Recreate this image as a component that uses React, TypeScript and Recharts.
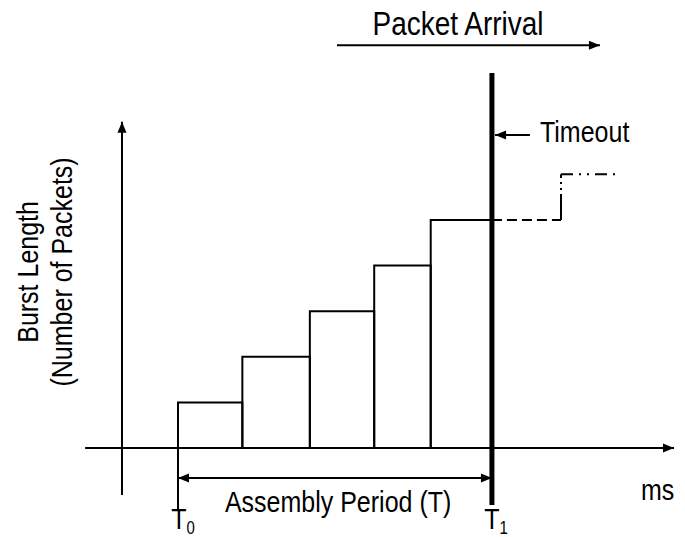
import { ComposedChart, XAxis, YAxis, ReferenceArea, ReferenceLine, ReferenceDot } from "recharts";

// packet arrivals inside one assembly period (ms) and the burst length after each
const arrivalTimes = [0, 2.05, 4.2, 6.25, 8.05];
const burstLengths = [1, 2, 3, 4, 5];
const timeoutAt = 10;
// what the burst would have done without the timeout
const lateArrival = 12.2;
const lateLength = 6;
const traceEnd = 14.1;

const bars = arrivalTimes.map((t, i) => ({
  x1: t,
  x2: i + 1 < arrivalTimes.length ? arrivalTimes[i + 1] : timeoutAt,
  y: burstLengths[i],
}));
const lastLength = burstLengths[burstLengths.length - 1];
const dashedPart = [
  { t: timeoutAt, n: lastLength },
  { t: lateArrival, n: lastLength },
];
const dashDotPart = [
  { t: lateArrival, n: lastLength },
  { t: lateArrival, n: lateLength },
  { t: traceEnd, n: lateLength },
];

const W = 685;
const H = 537;
const X_DOMAIN: [number, number] = [-5.67, 16.15];
const Y_DOMAIN: [number, number] = [-1.95, 9.82];
const FONT = "'Liberation Sans', Arial, Helvetica, sans-serif";
const STRETCH = 1.2; // scanned lettering is taller than Arial

function toSegments(pts: { t: number; n: number }[]) {
  return pts.slice(1).map((p, i) => [
    { x: pts[i].t, y: pts[i].n },
    { x: p.t, y: p.n },
  ]);
}

function arrow(heads: "end" | "both", width = 2) {
  return (p: any) => {
    const { x1, y1, x2, y2 } = p;
    const a = Math.atan2(y2 - y1, x2 - x1);
    const head = (x: number, y: number, ang: number) => {
      const L = 11;
      const hw = 4.5;
      const bx = x - L * Math.cos(ang);
      const by = y - L * Math.sin(ang);
      const pts = [
        [x, y],
        [bx - hw * Math.sin(ang), by + hw * Math.cos(ang)],
        [bx + hw * Math.sin(ang), by - hw * Math.cos(ang)],
      ];
      return <polygon points={pts.map((q) => q.join(",")).join(" ")} fill="#000" />;
    };
    return (
      <g>
        <line x1={x1} y1={y1} x2={x2} y2={y2} stroke="#000" strokeWidth={width} />
        {head(x2, y2, a)}
        {heads === "both" && head(x1, y1, a + Math.PI)}
      </g>
    );
  };
}

function plainLine(width: number, dash?: string) {
  return (p: any) => (
    <line x1={p.x1} y1={p.y1} x2={p.x2} y2={p.y2} stroke="#000" strokeWidth={width} strokeDasharray={dash} />
  );
}

function textAt(label: string, anchor: "start" | "middle" | "end" = "middle", rotate = false, size = 25) {
  return (p: any) => {
    const tf = rotate
      ? `translate(${p.cx} ${p.cy}) rotate(-90) scale(1 ${STRETCH}) translate(${-p.cx} ${-p.cy})`
      : `translate(${p.cx} ${p.cy}) scale(1 ${STRETCH}) translate(${-p.cx} ${-p.cy})`;
    return (
      <text
        x={p.cx}
        y={p.cy}
        textAnchor={anchor}
        dominantBaseline="central"
        fontFamily={FONT}
        fontSize={size}
        fill="#000"
        transform={tf}
      >
        {label}
      </text>
    );
  };
}

function subscripted(main: string, sub: string) {
  return (p: any) => (
    <text
      x={p.cx - 7.6}
      y={p.cy}
      dominantBaseline="central"
      fontFamily={FONT}
      fontSize={25}
      fill="#000"
      transform={`translate(${p.cx} ${p.cy}) scale(1 ${STRETCH}) translate(${-p.cx} ${-p.cy})`}
    >
      {main}
      <tspan dy={7} fontSize={15}>
        {sub}
      </tspan>
    </text>
  );
}

export default function App() {
  return (
    <div style={{ position: "absolute", left: 0, top: 0, background: "#fff" }}>
      <ComposedChart width={W} height={H} margin={{ top: 0, right: 0, bottom: 0, left: 0 }}>
        <XAxis type="number" dataKey="t" domain={X_DOMAIN} allowDataOverflow hide />
        <YAxis type="number" dataKey="n" domain={Y_DOMAIN} allowDataOverflow hide />

        {bars.map((b, i) => (
          <ReferenceArea
            key={i}
            x1={b.x1}
            x2={b.x2}
            y1={0}
            y2={b.y}
            fill="none"
            fillOpacity={0}
            stroke="#000"
            strokeWidth={2}
          />
        ))}

        {/* axes */}
        <ReferenceLine segment={[{ x: -2.96, y: 0 }, { x: 15.8, y: 0 }]} shape={arrow("end", 2)} />
        <ReferenceLine segment={[{ x: -1.784, y: -1.03 }, { x: -1.784, y: 7.15 }]} shape={arrow("end", 2)} />

        {/* T0 tick and assembly period */}
        <ReferenceLine segment={[{ x: 0, y: 0 }, { x: 0, y: -1.36 }]} shape={plainLine(2)} />
        <ReferenceLine segment={[{ x: 0, y: -0.657 }, { x: timeoutAt, y: -0.657 }]} shape={arrow("both", 2)} />

        {/* burst growth past the timeout */}
        {toSegments(dashedPart).map((s, i) => (
          <ReferenceLine key={`d${i}`} segment={s} shape={plainLine(2, "10 5")} />
        ))}
        {toSegments(dashDotPart).map((s, i) => (
          <ReferenceLine key={`dd${i}`} segment={s} shape={plainLine(2, i === 0 ? "26 4 2 4 2 4" : "12 6 2 6 2 6")} />
        ))}

        {/* timeout */}
        <ReferenceLine segment={[{ x: timeoutAt, y: 8.22 }, { x: timeoutAt, y: -1.25 }]} shape={plainLine(5)} />
        <ReferenceLine segment={[{ x: 11.21, y: 6.86 }, { x: 10.1, y: 6.86 }]} shape={arrow("end", 2)} />

        {/* packet arrival */}
        <ReferenceLine segment={[{ x: 5.065, y: 8.83 }, { x: 13.44, y: 8.83 }]} shape={arrow("end", 2)} />

        <ReferenceDot x={8.92} y={9.3} shape={textAt("Packet Arrival", "middle", false, 28)} />
        <ReferenceDot x={11.53} y={6.93} shape={textAt("Timeout", "start")} />
        <ReferenceDot x={5.1} y={-1.183} shape={textAt("Assembly Period (T)")} />
        <ReferenceDot x={14.75} y={-0.92} shape={textAt("ms", "start")} />
        <ReferenceDot x={-4.78} y={3.86} shape={textAt("Burst Length", "middle", true)} />
        <ReferenceDot x={-3.695} y={3.86} shape={textAt("(Number of Packets)", "middle", true)} />
        <ReferenceDot x={0.03} y={-1.55} shape={subscripted("T", "0")} />
        <ReferenceDot x={timeoutAt} y={-1.55} shape={subscripted("T", "1")} />
      </ComposedChart>
    </div>
  );
}
